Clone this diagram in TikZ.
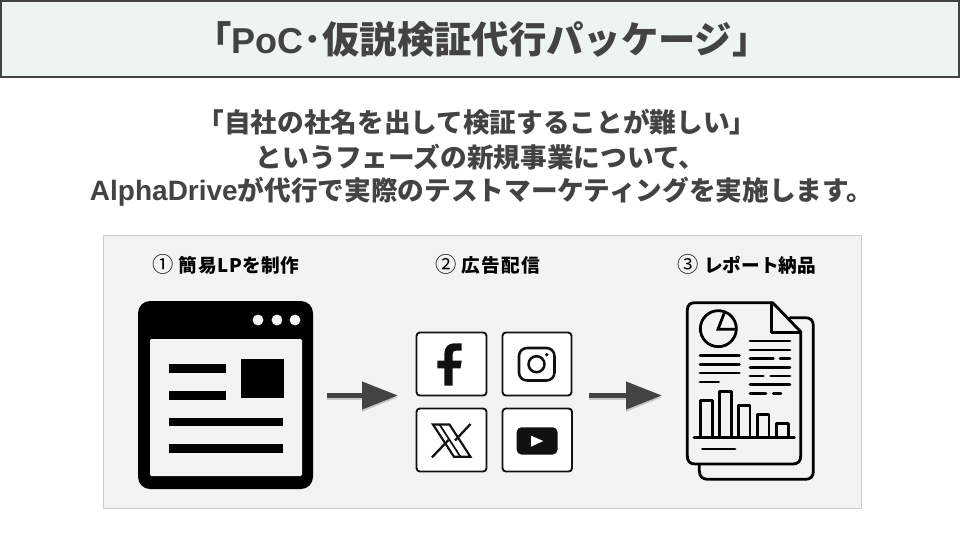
\documentclass[tikz,border=0pt]{standalone}
\usepackage{fontspec}
\setmainfont{Liberation Sans}
\newfontfamily\cjk{Noto Sans CJK JP}
\newfontfamily\cjkA[LetterSpace=3]{Noto Sans CJK JP}
\newfontfamily\cjkB[LetterSpace=7]{Noto Sans CJK JP}
\newcommand{\lat}[2]{{\rmfamily\bfseries\fontsize{#1}{#1}\selectfont #2}}
\newcommand{\circnum}[1]{{\cjk\mdseries\fontsize{16pt}{16pt}\selectfont #1}}
\usetikzlibrary{arrows.meta}
\definecolor{ink}{HTML}{434343}
\definecolor{titlebg}{HTML}{EEF4F2}
\definecolor{panelbg}{HTML}{F3F3F3}
\definecolor{panelln}{HTML}{CCCCCC}
\definecolor{iconink}{HTML}{111111}
\tikzset{
  titlebox/.style={draw=ink,fill=titlebg,line width=1.5pt},
  titletext/.style={text=ink,font=\cjk\bfseries\fontsize{28pt}{32pt}\selectfont,inner sep=0pt,anchor=center},
  bodytext/.style={text=ink,font=\cjk\bfseries\fontsize{20pt}{24pt}\selectfont,inner sep=0pt,anchor=center},
  steplabel/.style={text=black,font=\bfseries\fontsize{14pt}{18pt}\selectfont,inner sep=0pt,anchor=center},
  panelbox/.style={draw=panelln,fill=panelbg,line width=.75pt},
  flowarrow/.style={draw=ink,line width=3.8pt,-{Triangle[length=27pt,width=20pt]}},
  flowshadow/.style={draw=black,draw opacity=.18,line width=4.4pt,-{Triangle[length=27pt,width=20pt]},fill opacity=.18},
  tile/.style={draw=iconink,fill=white,line width=1.4pt,rounded corners=2.5pt},
  repline/.style={draw=black,line width=2.1pt,line cap=round},
}
\begin{document}
\begin{tikzpicture}[x=.75pt,y=-.75pt]
\useasboundingbox (0,0) rectangle (960,540);
\fill[white] (0,0) rectangle (960,540);
% title
\draw[titlebox] (1,1) rectangle (959,77);
\node[titletext] (title) at (482,39) {「\lat{27pt}{PoC}･仮説検証代行パッケージ」};
% body
\node[bodytext] (body1) at (477,122) {「自社の社名を出して検証することが難しい」};
\node[bodytext] (body2) at (480.5,157) {というフェーズの新規事業について、};
\node[bodytext] (body3) at (481.5,191.5) {\lat{21pt}{AlphaDrive}が代行で実際のテストマーケティングを実施します。};
% panel
\draw[panelbox] (103,235) rectangle (861,508);
\node[steplabel] (lab1) at (226,264) {\circnum{①} {\cjkA 簡易LPを制作}};
\node[steplabel] (lab2) at (488,264) {\circnum{②} {\cjkB 広告配信}};
\node[steplabel] (lab3) at (747,264) {\circnum{③} {\cjk レポート納品}};
% window icon
\fill[black,rounded corners=9pt] (138,301) rectangle (313,489);
\fill[panelbg,rounded corners=1pt] (150,339) rectangle (302,476);
\foreach \cx in {258,277,295} \fill[panelbg] (\cx,320) circle (4.1pt);
\fill[black] (241,359) rectangle (284,398);
\fill[black] (169,364) rectangle (226,373);
\fill[black] (169,391) rectangle (226,399.5);
\fill[black] (169,417.5) rectangle (283,426);
\fill[black] (169,444) rectangle (283,452.5);
% arrows
\coordinate (a1s) at (327,395.5);
\coordinate (a1e) at (398,395.5);
\coordinate (a2s) at (589,395.5);
\coordinate (a2e) at (662,395.5);
\coordinate (a1ss) at (327,397.5);
\coordinate (a1es) at (398,397.5);
\coordinate (a2ss) at (589,397.5);
\coordinate (a2es) at (662,397.5);
\draw[flowshadow] (a1ss) -- (a1es);
\draw[flowshadow] (a2ss) -- (a2es);
\draw[flowarrow] (a1s) -- (a1e);
\draw[flowarrow] (a2s) -- (a2e);
% tiles
\draw[tile] (416.5,332.5) rectangle (486.5,395.5);
\draw[tile] (502.5,332.5) rectangle (571.5,395.5);
\draw[tile] (416.5,408.5) rectangle (486.5,471.5);
\draw[tile] (502.5,408.5) rectangle (572,471.5);
% facebook f
\fill[iconink] (444.3,385.7) -- (444.3,368.3) -- (437.3,368.3) -- (437.3,360.7) -- (444.3,360.7) -- (444.3,354)
  .. controls (444.3,347) and (448.5,343.3) .. (454,343.3) -- (461.7,343.3) -- (461.7,350.7) -- (456,350.7)
  .. controls (453.5,350.7) and (452.7,352) .. (452.7,354) -- (452.7,360.7) -- (461.7,360.7) -- (460.5,368.3) -- (452.7,368.3) -- (452.7,385.7) -- cycle;
% instagram
\draw[iconink,line width=1.9pt,rounded corners=6pt] (519,348) rectangle (554.5,380.5);
\draw[iconink,line width=1.9pt] (536.5,364.2) circle (6pt);
\fill[iconink] (546.7,354.7) circle (1.4pt);
% X
\draw[iconink,line width=1.6pt,fill=white,line join=miter] (433,424.5) -- (449.5,424.5) -- (470.5,456.8) -- (454,456.8) -- cycle;
\draw[iconink,line width=1.3pt] (439.5,424.5) -- (460.5,456.8);
\draw[iconink,line width=1.7pt] (470.5,424) -- (455,440.5);
\draw[iconink,line width=1.7pt] (432,457.3) -- (448.5,440);
% youtube
\fill[iconink,rounded corners=3.5pt] (516.7,427.3) rectangle (557.5,454.5);
\fill[white] (531,435.7) -- (531,446.7) -- (543.3,441) -- cycle;
% report icon
\begin{scope}[shift={(580,290)},x=.25pt,y=-.25pt]
  \draw[repline,line join=round] (630,83) -- (675,83) .. controls (692,83) and (700,92) .. (700,108) -- (700,543) .. controls (700,560) and (692,568) .. (675,568) -- (385,568) .. controls (368,568) and (358,560) .. (358,543) -- (358,524);
  \draw[repline,line join=round,fill=panelbg] (578,38) -- (345,38) .. controls (330,38) and (322,46) .. (322,60) -- (322,498) .. controls (322,514) and (330,522) .. (345,522) -- (638,522) .. controls (654,522) and (662,514) .. (662,498) -- (662,125) -- cycle;
  \draw[repline,line join=round] (575,38) -- (575,127) -- (662,127);
  \draw[repline] (415,116) circle (54);
  \draw[repline,line join=miter] (433,68) -- (414,118) -- (468,118);
  \foreach \yy in {197,223,249} \draw[repline] (360,\yy) -- (478,\yy);
  \draw[repline] (360,276) -- (416,276);
  \foreach \yy in {153,180,232,284} \draw[repline] (510,\yy) -- (630,\yy);
  \draw[repline] (510,205) -- (580,205); \draw[repline] (600,205) -- (630,205);
  \draw[repline] (510,258) -- (550,258); \draw[repline] (572,258) -- (630,258);
  \draw[repline] (510,311) -- (558,311); \draw[repline] (580,311) -- (603,311);
  \draw[repline,line join=round] (362,443) -- (362,332) -- (397,332) -- (397,443);
  \draw[repline,line join=round] (418,443) -- (418,305) -- (454,305) -- (454,443);
  \draw[repline,line join=round] (475,443) -- (475,347) -- (510,347) -- (510,443);
  \draw[repline,line join=round] (532,443) -- (532,374) -- (567,374) -- (567,443);
  \draw[repline,line join=round] (589,443) -- (589,401) -- (625,401) -- (625,443);
  \draw[repline] (342,443) -- (643,443);
  \draw[repline] (367,477) -- (465,477);
\end{scope}
\end{tikzpicture}
\end{document}
